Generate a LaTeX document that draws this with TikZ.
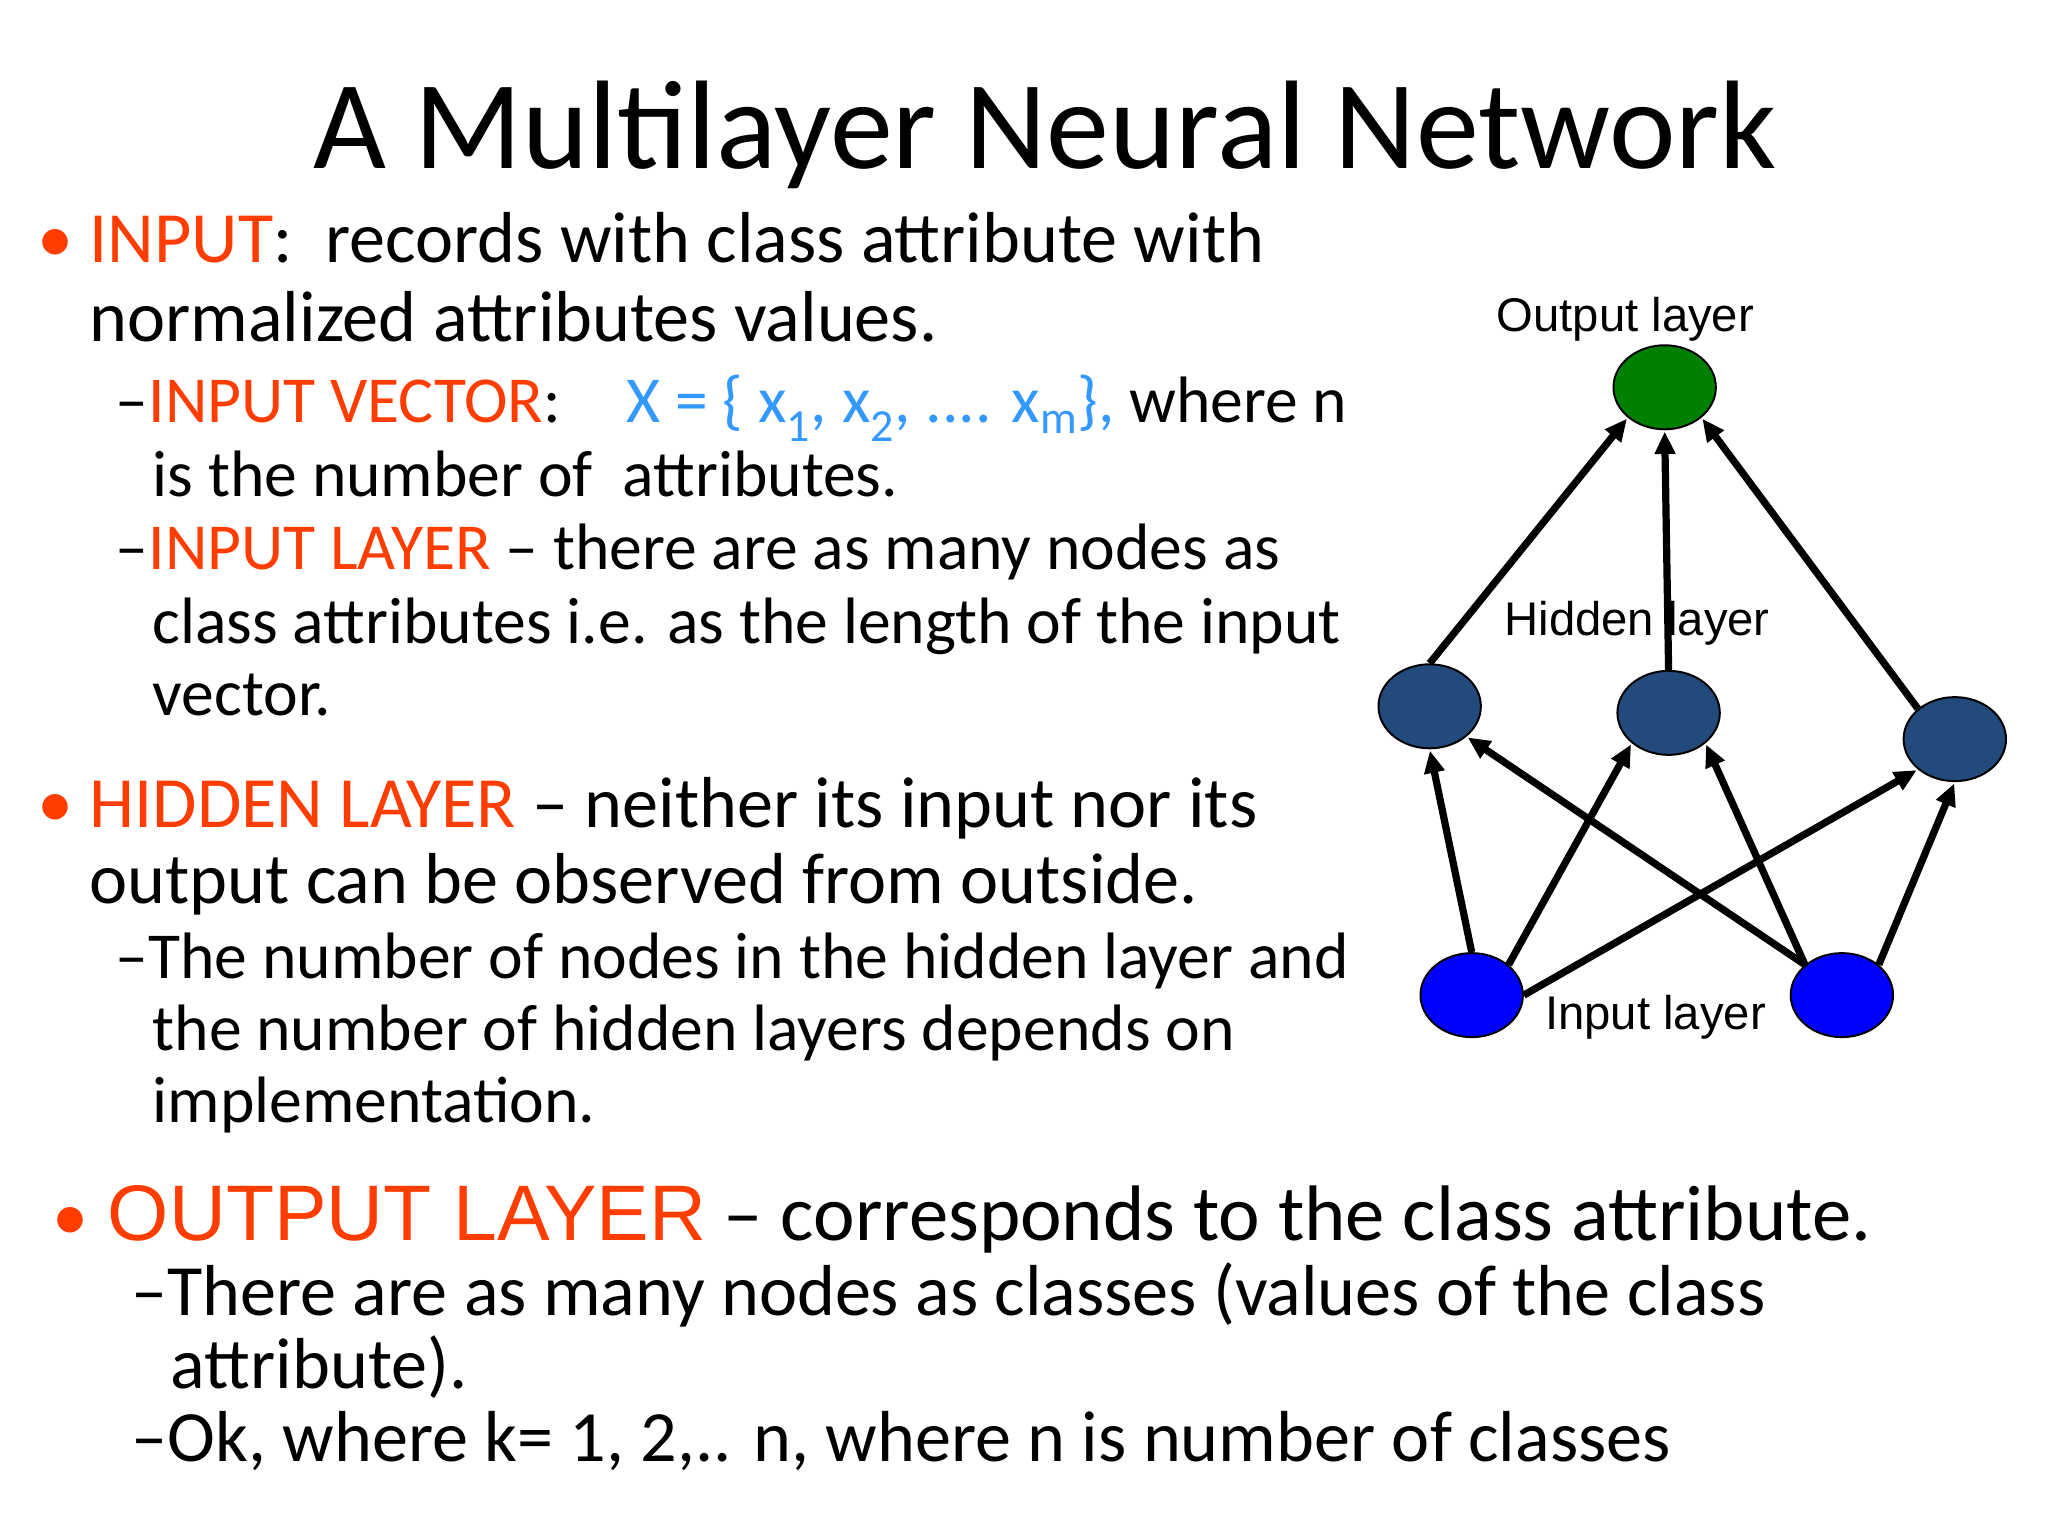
\documentclass[tikz,border=0pt]{standalone}
\usepackage{fontspec}
\setmainfont{Carlito}
\newfontfamily\arialf{Liberation Sans}
\usetikzlibrary{arrows.meta,shapes.geometric}
\definecolor{hl}{HTML}{FF3D00}
\definecolor{xb}{HTML}{3399FF}
\definecolor{hid}{HTML}{234A7C}
\definecolor{inp}{HTML}{0000FF}
\definecolor{outc}{HTML}{008000}
\begin{document}
\begin{tikzpicture}[x=1pt,y=-1pt,
  t/.style={anchor=base west,inner sep=0pt,font=\fontsize{55}{55}\selectfont},
  st/.style={anchor=base west,inner sep=0pt,font=\fontsize{50}{50}\selectfont},
  neu/.style={ellipse,draw=black,line width=1.5pt,minimum width=78pt,minimum height=64pt,inner sep=0pt},
  lab/.style={inner sep=0pt,font=\arialf\fontsize{36}{36}\selectfont},
  ar/.style={line width=5.5pt,-{Triangle[length=17pt,width=15pt]},shorten >=1pt}]
\useasboundingbox (0,0) rectangle (1560,1170);
\fill[white] (0,0) rectangle (1560,1170);
\node[anchor=base,inner sep=0pt,font=\fontsize{96}{96}\selectfont] (title) at (796,128) {A Multilayer Neural Network};
% bullet 1
\node[t,text=hl] (b1) at (28,200) {•};
\node[t] (l1) at (68,200) {\textcolor{hl}{INPUT}:\ \ records with class attribute with};
\node[t] (l2) at (68,260) {normalized attributes values.};
\node[st] (l3) at (88,322) {–\textcolor{hl}{INPUT VECTOR}:\quad \textcolor{xb}{X = \{ x\textsubscript{1}, x\textsubscript{2}, .... x\textsubscript{m}\},} where n};
\node[st] (l4) at (116,378) {is the number of\ \ attributes.};
\node[st] (l5) at (88,434) {–\textcolor{hl}{INPUT LAYER} – there are as many nodes as};
\node[st] (l6) at (116,490) {class attributes i.e. as the length of the input};
\node[st] (l7) at (116,545) {vector.};
% bullet 2
\node[t,text=hl] (b2) at (28,630) {•};
\node[t] (l8) at (68,630) {\textcolor{hl}{HIDDEN LAYER} – neither its input nor its};
\node[t] (l9) at (68,688) {output can be observed from outside.};
\node[st] (l10) at (88,745) {–The number of nodes in the hidden layer and};
\node[st] (l11) at (116,800) {the number of hidden layers depends on};
\node[st] (l12) at (116,855) {implementation.};
% bullet 3
\node[t,text=hl] (b3) at (40,945) {•};
\node[t,font=\fontsize{60}{60}\selectfont] (l13) at (82,945) {\textcolor{hl}{\arialf OUTPUT LAYER} – corresponds to the class attribute.};
\node[st,font=\fontsize{55}{55}\selectfont] (l14) at (100,1002) {–There are as many nodes as classes (values of the class};
\node[st,font=\fontsize{55}{55}\selectfont] (l15) at (130,1058) {attribute).};
\node[st,font=\fontsize{55}{55}\selectfont] (l16) at (100,1113) {–Ok, where k= 1, 2,.. n, where n is number of classes};
% network
\node[neu,fill=outc] (o) at (1268,295) {};
\node[neu,fill=hid] (h1) at (1089,538) {};
\node[neu,fill=hid] (h2) at (1271,543) {};
\node[neu,fill=hid] (h3) at (1489,563) {};
\node[neu,fill=inp] (i1) at (1121,758) {};
\node[neu,fill=inp] (i2) at (1403,758) {};
\node[lab] (lo) at (1238,243) {Output layer};
\node[lab] (lh) at (1247,475) {Hidden layer};
\node[lab] (li) at (1261,775) {Input layer};
\draw[ar] (h1.north) -- (o.south west);
\draw[ar] (h2.north) -- (o.south);
\draw[ar] (h3.north west) -- (o.south east);
\draw[ar] (i1.north) -- (h1.south);
\draw[ar] (i1.north east) -- (h2.south west);
\draw[ar] (i1.east) -- (h3.south west);
\draw[ar] (i2.north west) -- (h1.south east);
\draw[ar] (i2.north west) -- (h2.south east);
\draw[ar] (i2.north east) -- (h3.south);
\end{tikzpicture}
\end{document}
